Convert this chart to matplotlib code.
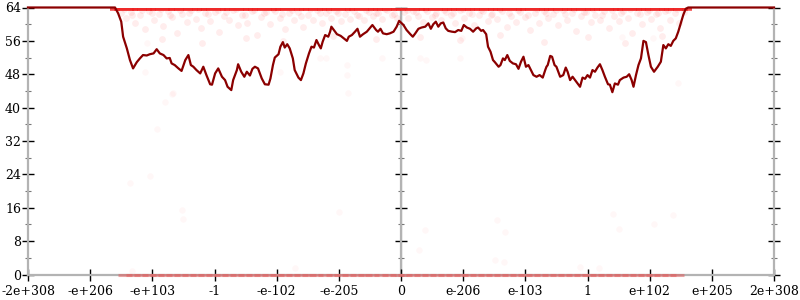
import matplotlib
matplotlib.use("Agg")
import matplotlib.pyplot as plt

# ---- data ----
tick_labels = ["-2e+308", "-e+206", "-e+103", "-1", "-e-102", "-e-205", "0",
               "e-206", "e-103", "1", "e+102", "e+205", "2e+308"]
tick_pos = [-6, -5, -4, -3, -2, -1, 0, 1, 2, 3, 4, 5, 6]

line_x = [-6.0, -4.60, -4.55, -4.50, -4.47, -4.41, -4.36, -4.31, -4.25, -4.20, -4.15,
          -4.09, -4.04, -3.98, -3.93, -3.88, -3.82, -3.77, -3.72, -3.69, -3.64, -3.58,
          -3.53, -3.47, -3.42, -3.38, -3.34, -3.29, -3.23, -3.18, -3.13, -3.07, -3.04,
          -2.99, -2.94, -2.88, -2.83, -2.79, -2.73, -2.70, -2.64, -2.62, -2.57, -2.52,
          -2.48, -2.43, -2.39, -2.35, -2.30, -2.24, -2.19, -2.13, -2.10, -2.06, -2.03,
          -1.97, -1.94, -1.90, -1.87, -1.83, -1.79, -1.74, -1.71, -1.65, -1.61, -1.57,
          -1.53, -1.48, -1.44, -1.40, -1.36, -1.32, -1.29, -1.26, -1.22, -1.17, -1.14,
          -1.12, -1.08, -1.03, -0.97, -0.92, -0.87, -0.84, -0.79, -0.74, -0.70, -0.66,
          -0.61, -0.55, -0.51, -0.46, -0.40, -0.37, -0.33, -0.29, -0.23, -0.18, -0.12,
          -0.07, -0.03, 0.04, 0.09, 0.15, 0.19, 0.23, 0.28, 0.33, 0.39, 0.44, 0.48,
          0.52, 0.56, 0.60, 0.64, 0.68, 0.72, 0.76, 0.82, 0.87, 0.92, 0.97, 1.01,
          1.06, 1.11, 1.16, 1.21, 1.24, 1.29, 1.32, 1.37, 1.40, 1.44, 1.48, 1.51,
          1.57, 1.60, 1.64, 1.67, 1.71, 1.75, 1.80, 1.85, 1.89, 1.93, 1.97, 2.01,
          2.05, 2.09, 2.13, 2.18, 2.23, 2.28, 2.32, 2.34, 2.36, 2.40, 2.43, 2.47,
          2.50, 2.56, 2.61, 2.65, 2.68, 2.72, 2.76, 2.80, 2.84, 2.88, 2.92, 2.96,
          3.00, 3.04, 3.08, 3.12, 3.16, 3.20, 3.24, 3.28, 3.33, 3.36, 3.40, 3.44,
          3.49, 3.52, 3.58, 3.63, 3.67, 3.71, 3.74, 3.78, 3.82, 3.86, 3.90, 3.94,
          3.98, 4.02, 4.07, 4.13, 4.18, 4.22, 4.26, 4.30, 4.34, 4.38, 4.42, 4.46,
          4.50, 4.54, 4.58, 4.62, 6.0]
line_y = [64.0, 64.0, 62.6, 60.6, 57.0, 54.2, 51.4, 49.4, 50.9, 51.8, 52.6,
          52.5, 52.8, 53.0, 54.0, 53.0, 52.6, 51.8, 51.9, 50.6, 50.2, 49.4,
          48.8, 51.4, 52.6, 50.2, 49.8, 49.0, 48.2, 49.8, 47.8, 45.6, 45.5,
          48.2, 49.4, 47.4, 46.6, 45.0, 44.2, 46.6, 49.0, 50.4, 48.6, 47.4,
          48.6, 47.7, 49.3, 49.8, 49.4, 47.0, 45.6, 45.5, 47.0, 50.2, 52.0,
          52.8, 54.6, 55.7, 54.4, 55.2, 54.2, 51.8, 49.0, 47.2, 46.6, 48.2,
          50.6, 53.0, 54.6, 54.4, 56.2, 55.0, 54.2, 55.8, 57.4, 57.0, 58.2,
          59.4, 58.6, 57.6, 57.2, 56.6, 56.0, 57.0, 57.4, 58.2, 58.9, 57.0,
          57.6, 58.2, 58.9, 59.8, 58.6, 58.2, 58.9, 57.8, 57.6, 57.8, 58.2,
          59.4, 60.8, 59.8, 58.6, 57.6, 57.0, 57.8, 58.9, 59.2, 59.4, 60.2, 58.9,
          60.0, 60.6, 59.4, 60.2, 60.4, 59.0, 58.4, 58.2, 58.1, 58.6, 58.4, 59.8,
          59.2, 58.9, 58.2, 59.0, 59.2, 58.4, 58.6, 57.6, 54.6, 53.4, 51.4, 50.9,
          49.8, 50.2, 51.8, 51.4, 52.6, 51.2, 50.6, 50.4, 49.3, 51.0, 52.2, 49.8,
          50.2, 49.0, 47.8, 47.4, 47.8, 47.2, 49.0, 49.8, 50.2, 52.4, 52.2, 50.2,
          49.8, 47.4, 47.8, 49.6, 48.6, 46.6, 47.4, 46.6, 45.8, 45.0, 47.2, 46.9,
          47.8, 47.2, 49.0, 48.6, 49.6, 50.4, 49.0, 47.4, 45.6, 45.5, 43.7, 45.8,
          45.5, 46.6, 47.2, 47.4, 48.0, 46.6, 45.0, 47.8, 50.2, 51.8, 56.0, 55.7,
          52.6, 49.8, 48.6, 49.8, 51.0, 55.0, 54.2, 55.2, 54.8, 56.0, 56.6, 58.2,
          60.2, 62.2, 63.7, 64.0, 64.0]

top_row_x = [-4.60, -4.53, -4.47, -4.38, -4.31, -4.25, -4.16, -4.09, -4.02, -3.95, -3.87,
             -3.80, -3.72, -3.66, -3.57, -3.50, -3.43, -3.35, -3.28, -3.20, -3.13, -3.05,
             -2.98, -2.90, -2.83, -2.76, -2.68, -2.61, -2.53, -2.46, -2.38, -2.31, -2.23,
             -2.16, -2.08, -2.01, -1.94, -1.86, -1.79, -1.71, -1.64, -1.56, -1.49, -1.41,
             -1.34, -1.27, -1.19, -1.12, -1.04, -0.97, -0.89, -0.82, -0.75, -0.67, -0.60,
             -0.52, -0.45, -0.37, -0.30, -0.22, -0.15, -0.08, 0.00, 0.07, 0.15, 0.22,
             0.30, 0.37, 0.44, 0.52, 0.59, 0.67, 0.74, 0.82, 0.89, 0.96, 1.04, 1.11,
             1.19, 1.26, 1.34, 1.41, 1.48, 1.56, 1.63, 1.71, 1.78, 1.86, 1.93, 2.00,
             2.08, 2.15, 2.23, 2.30, 2.38, 2.45, 2.52, 2.60, 2.67, 2.75, 2.82, 2.90,
             2.97, 3.04, 3.12, 3.19, 3.27, 3.34, 3.42, 3.49, 3.56, 3.64, 3.71, 3.79,
             3.86, 3.94, 4.01, 4.08, 4.16, 4.23, 4.31, 4.38, 4.46, 4.53, 4.60]
top_row_y = [64.0] * len(top_row_x)

bottom_row_x = [-4.44, -4.31, -4.18, -4.06, -3.93, -3.79, -3.67, -3.54, -3.41, -3.28,
                -3.16, -3.02, -2.90, -2.77, -2.64, -2.51, -2.38, -2.26, -2.12, -2.00,
                -1.87, -1.74, -1.61, -1.48, -1.36, -1.22, -1.10, -0.97, -0.84, -0.71,
                -0.58, -0.46, -0.32, -0.20, -0.07, 0.06, 0.19, 0.32, 0.45, 0.58, 0.71,
                0.83, 0.96, 1.09, 1.22, 1.35, 1.48, 1.61, 1.74, 1.86, 1.99, 2.12, 2.25,
                2.38, 2.51, 2.64, 2.77, 2.89, 3.02, 3.15, 3.28, 3.41, 3.54, 3.67, 3.80,
                3.93, 4.05, 4.18, 4.31, 4.44]
bottom_row_y = [0.0] * len(bottom_row_x)

cloud_x = [-4.50, -4.42, -4.35, -4.28, -4.20, -4.12, -4.05, -3.98, -3.90, -3.83, -3.75,
           -3.68, -3.60, -3.52, -3.45, -3.38, -3.30, -3.22, -3.15, -3.07, -3.00, -2.92,
           -2.85, -2.77, -2.70, -2.62, -2.55, -2.47, -2.40, -2.32, -2.25, -2.17, -2.10,
           -2.02, -1.95, -1.87, -1.80, -1.72, -1.65, -1.57, -1.50, -1.42, -1.35, -1.27,
           -1.20, -1.12, -1.05, -0.97, -0.90, -0.82, -0.75, -0.67, -0.60, -0.52, -0.45,
           -0.37, -0.30, -0.22, -0.15, -0.07, 0.05, 0.12, 0.20, 0.27, 0.35, 0.42, 0.50,
           0.57, 0.65, 0.72, 0.80, 0.87, 0.95, 1.02, 1.10, 1.17, 1.25, 1.32, 1.40, 1.47,
           1.55, 1.62, 1.70, 1.77, 1.85, 1.92, 2.00, 2.07, 2.15, 2.22, 2.30, 2.37, 2.45,
           2.52, 2.60, 2.67, 2.75, 2.82, 2.90, 2.97, 3.05, 3.12, 3.20, 3.27, 3.35, 3.42,
           3.50, 3.57, 3.65, 3.72, 3.80, 3.87, 3.95, 4.02, 4.10, 4.17, 4.25, 4.32, 4.40,
           4.47, 4.55,
           -4.46, -4.32, -4.17, -4.01, -3.86, -3.71, -3.55, -3.41, -3.26, -3.11, -2.95,
           -2.81, -2.66, -2.51, -2.36, -2.21, -2.06, -1.91, -1.76, -1.61, -1.46, -1.31,
           -1.16, -1.01, -0.86, -0.71, -0.56, -0.41, -0.26, -0.11, 0.09, 0.24, 0.39, 0.54,
           0.69, 0.84, 0.99, 1.14, 1.29, 1.44, 1.59, 1.74, 1.89, 2.04, 2.19, 2.34, 2.49,
           2.64, 2.79, 2.94, 3.09, 3.24, 3.39, 3.54, 3.69, 3.84, 3.99, 4.14, 4.29, 4.44,
           -3.85, -3.20, -2.50, -1.90, -1.10, -0.40, 0.30, 0.95, 1.60, 2.30, 3.00, 3.60, 4.20]
cloud_y = [62.8, 61.5, 63.0, 60.2, 62.1, 58.9, 63.2, 61.0, 62.5, 59.6, 63.1,
           61.8, 57.8, 62.4, 60.5, 63.3, 61.2, 59.0, 62.7, 60.8, 63.0, 58.2,
           62.0, 61.0, 63.4, 59.8, 62.3, 60.4, 63.1, 57.5, 61.7, 62.9, 60.0,
           63.2, 61.4, 58.8, 62.6, 60.9, 63.0, 59.4, 62.2, 61.1, 63.3, 60.3,
           62.8, 61.6, 63.1, 60.7, 62.4, 61.3, 63.2, 62.0, 60.9, 63.0, 61.9,
           62.7, 61.2, 63.3, 62.2, 61.5, 62.9, 61.4, 63.1, 62.0, 60.6, 63.2, 61.8,
           62.6, 61.0, 63.0, 62.2, 60.4, 63.3, 61.6, 62.8, 59.9, 62.1, 63.1, 60.8, 62.5,
           61.2, 63.2, 59.3, 62.0, 60.6, 63.0, 61.7, 58.6, 62.7, 60.2, 63.1, 61.4, 62.4,
           59.7, 63.3, 61.0, 62.6, 58.4, 61.9, 63.0, 60.5, 62.3, 61.1, 63.2, 59.2, 62.0,
           60.8, 63.1, 61.5, 57.9, 62.6, 60.1, 63.0, 61.3, 62.4, 59.0, 63.2, 61.0, 62.7,
           60.4, 63.0,
           63.6, 62.3, 63.5, 62.6, 63.7, 62.1, 63.4, 62.8, 63.6, 62.4, 63.5,
           62.9, 63.7, 62.2, 63.4, 62.7, 63.6, 62.5, 63.5, 62.0, 63.7, 62.6,
           63.4, 62.8, 63.6, 62.3, 63.5, 62.7, 63.6, 62.4, 63.5, 62.9, 63.7, 62.2,
           63.4, 62.6, 63.6, 62.5, 63.5, 62.1, 63.7, 62.8, 63.4, 62.3, 63.6, 62.7, 63.5,
           62.4, 63.6, 62.9, 63.7, 62.2, 63.4, 62.6, 63.6, 62.5, 63.5, 62.8, 63.4, 63.6,
           56.5, 55.6, 56.8, 55.9, 57.2, 56.4, 57.0, 56.2, 57.4, 55.8, 56.9, 55.5, 57.1]

stray_x = [-3.53, -3.50, -4.33, -3.68, -3.80, -3.92, -4.04, -4.36, -1.00, 0.39, 0.29, 1.54,
           1.68, 1.51, 1.65, -1.70, 3.41, 4.37, 4.07, 3.50, 2.88, 3.18, -4.09, -4.12, -3.66,
           -1.95, -0.87, -0.87, -1.20, -1.30, -0.31, -0.85, 0.31, 0.41, 0.95, 0.98, 4.46,
           3.55, 4.06]
stray_y = [15.5, 13.3, 0.8, 43.3, 41.4, 34.9, 23.6, 21.9, 15.1, 10.7, 5.9, 13.1,
           10.1, 3.5, 3.1, 1.5, 14.5, 14.3, 12.1, 10.9, 1.9, 1.5, 55.5, 48.6, 43.5,
           48.6, 50.2, 47.8, 51.8, 51.8, 51.8, 43.5, 51.8, 51.4, 51.8, 56.6, 45.8,
           57.0, 56.6]

y_major = [0, 8, 16, 24, 32, 40, 48, 56, 64]
y_minor = [4, 12, 20, 28, 36, 44, 52, 60]

# ---- figure ----
plt.rcParams['font.family'] = ['DejaVu Serif']
fig = plt.figure(figsize=(8, 3), dpi=100)
ax = fig.add_axes([0.035, 0.085, 0.9325, 0.89])

grey = "#b3b3b3"
ax.scatter(stray_x, stray_y, s=22, color="#ff0000", alpha=0.03, linewidths=0, zorder=2)
ax.scatter(cloud_x, cloud_y, s=24, color="#ff0000", alpha=0.07, linewidths=0, zorder=2)
ax.scatter(top_row_x, top_row_y, s=60, marker="_", color="#ee2222", alpha=0.8,
           linewidths=4, zorder=2)
ax.scatter(bottom_row_x, bottom_row_y, s=90, marker="_", color="#e06060", alpha=0.55,
           linewidths=2.2, zorder=4, clip_on=False)
ax.plot(line_x, line_y, color="#8b0000", lw=1.6, zorder=5, clip_on=False,
        solid_joinstyle="round")

ax.set_xlim(-6, 6)
ax.set_ylim(0, 64)
ax.axvline(0, color=grey, lw=1.6, zorder=1)

for side in ["left", "right", "bottom"]:
    ax.spines[side].set_color(grey)
    ax.spines[side].set_linewidth(1.6)
ax.spines["top"].set_visible(False)

ax.set_xticks(tick_pos)
ax.set_xticklabels(tick_labels)
ax.set_yticks(y_major)
ax.set_yticks(y_minor, minor=True)
ax.tick_params(axis="x", direction="inout", length=9, width=1, color="black",
               labelsize=9, pad=3)
ax.tick_params(axis="y", which="major", direction="inout", length=8, width=1,
               color="black", labelsize=9, pad=1, left=True, right=True)
ax.tick_params(axis="y", which="minor", direction="inout", length=5, width=0.8,
               color="#777777", left=True, right=True)

sec = ax.secondary_yaxis(0.5)
sec.set_yticks(y_major)
sec.set_yticks(y_minor, minor=True)
sec.spines["left"].set_visible(False)
sec.tick_params(axis="y", which="major", direction="inout", length=8, width=1,
                color="black", labelleft=False)
sec.tick_params(axis="y", which="minor", direction="inout", length=5, width=0.8,
                color="#777777")
sec.set_yticklabels([])

fig.savefig("out.png", dpi=100)
